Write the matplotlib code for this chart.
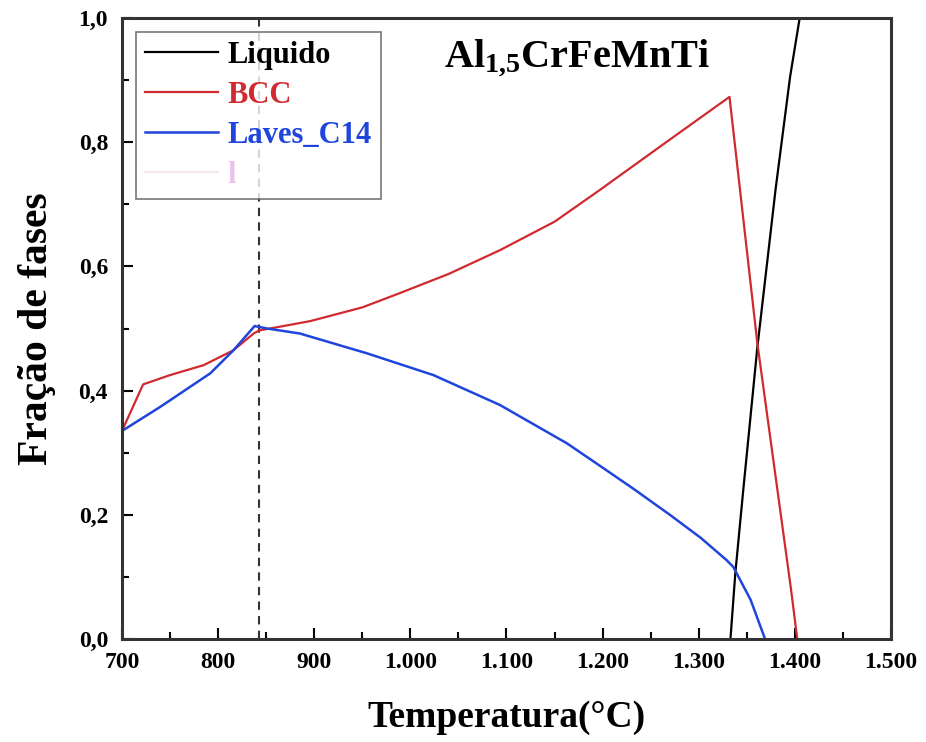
import matplotlib
matplotlib.use("Agg")
import matplotlib.pyplot as plt
from matplotlib.lines import Line2D
from matplotlib.ticker import MultipleLocator, FuncFormatter

plt.rcParams['font.family'] = ['Liberation Serif', 'DejaVu Serif']
plt.rcParams['font.weight'] = 'bold'
plt.rcParams['axes.labelweight'] = 'bold'
plt.rcParams['mathtext.fontset'] = 'custom'
plt.rcParams['mathtext.rm'] = 'Liberation Serif:bold'
plt.rcParams['mathtext.bf'] = 'Liberation Serif:bold'

# Liquid phase
liq_t = [1333, 1338, 1346, 1361, 1380, 1395, 1405]
liq_f = [0.0, 0.105, 0.235, 0.47, 0.725, 0.905, 1.0]

# BCC phase
bcc_t = [700, 722, 750, 785, 816, 837, 843, 861, 896, 950, 989, 1040, 1093,
         1150, 1197, 1267, 1332, 1361, 1396, 1402.5]
bcc_f = [0.335, 0.41, 0.425, 0.441, 0.465, 0.492, 0.497, 0.502, 0.512, 0.534,
         0.557, 0.588, 0.626, 0.672, 0.723, 0.801, 0.873, 0.476, 0.08, 0.0]

# Laves_C14 phase
lav_t = [700, 740, 792, 816, 838, 851, 885, 955, 1024, 1093, 1163, 1200,
         1232, 1270, 1302, 1329, 1336, 1354, 1369]
lav_f = [0.335, 0.374, 0.428, 0.465, 0.504, 0.500, 0.492, 0.460, 0.425,
         0.377, 0.315, 0.276, 0.242, 0.200, 0.163, 0.127, 0.116, 0.063, 0.0]

t_mark = 843

fig = plt.figure(figsize=(9.26, 7.42), dpi=100)
ax = fig.add_axes([0.1317, 0.1388, 0.8305, 0.8369])

red = '#d02a30'
blue = '#1f45dc'

ax.axvline(t_mark, color='#333333', linestyle=(0, (4, 3)), linewidth=1.5, zorder=1)
ax.plot(liq_t, liq_f, color='black', linewidth=1.6, label='Liquido')
ax.plot(bcc_t, bcc_f, color=red, linewidth=1.6, label='BCC')
ax.plot(lav_t, lav_f, color=blue, linewidth=1.8, label='Laves_C14')

ax.set_xlim(700, 1500)
ax.set_ylim(0, 1.0)
ax.xaxis.set_major_locator(MultipleLocator(100))
ax.xaxis.set_minor_locator(MultipleLocator(50))
ax.yaxis.set_major_locator(MultipleLocator(0.2))
ax.yaxis.set_minor_locator(MultipleLocator(0.1))


def fmt_x(v, pos):
    return f"{int(round(v)):,}".replace(',', '.')


def fmt_y(v, pos):
    return f"{v:.1f}".replace('.', ',')


ax.xaxis.set_major_formatter(FuncFormatter(fmt_x))
ax.yaxis.set_major_formatter(FuncFormatter(fmt_y))
ax.tick_params(which='both', direction='in', top=False, right=False, width=1.5)
ax.tick_params(which='major', length=8, labelsize=17)
ax.tick_params(which='minor', length=5)
ax.tick_params(axis='x', pad=9)
ax.tick_params(axis='y', pad=10)
for sp in ax.spines.values():
    sp.set_linewidth(2.2)
    sp.set_color('#333333')

ax.set_xlabel('Temperatura(°C)', fontsize=27, fontweight='bold', labelpad=20)
ax.set_ylabel('Fração de fases', fontsize=30, fontweight='bold', labelpad=16)

ax.text(0.592, 0.936, r'$\mathbf{Al_{1{,}5}CrFeMnTi}$', transform=ax.transAxes,
        fontsize=29, ha='center', va='center')

handles, labels = ax.get_legend_handles_labels()
handles.append(Line2D([], [], color='#f3e8f0', linewidth=1.6))
labels.append('l')
leg = ax.legend(handles, labels, loc='upper left', bbox_to_anchor=(0.018, 0.978),
                fontsize=22, frameon=True, fancybox=False, edgecolor='#555555',
                handlelength=2.4, handletextpad=0.3, labelspacing=0.36,
                borderpad=0.3, borderaxespad=0)
leg.get_frame().set_linewidth(1.2)
text_colors = ['black', red, blue, '#ecc0ec']
for txt, c in zip(leg.get_texts(), text_colors):
    txt.set_color(c)

fig.savefig('out.png', dpi=100)
